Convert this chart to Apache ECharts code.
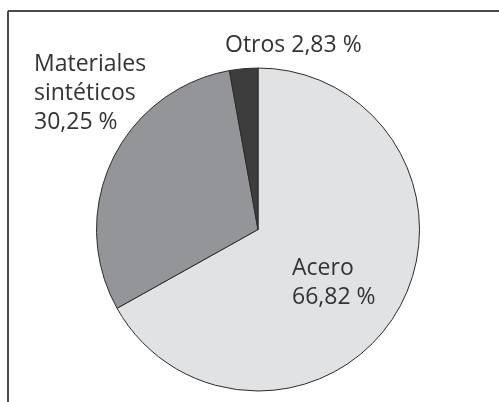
<!DOCTYPE html>
<html>
<head>
<meta charset="utf-8">
<script src="https://cdn.jsdelivr.net/npm/echarts@6/dist/echarts.min.js"></script>
<style>html,body{margin:0;padding:0;background:#fff;}#c{width:499px;height:402px;}</style>
</head>
<body>
<div id="c"></div>
<script>
var categories = ['Acero', 'Materiales\nsintéticos', 'Otros'];
var values = [66.82, 30.25, 2.83];
var valueLabels = ['66,82 %', '30,25 %', '2,83 %'];
var colors = ['#e1e2e4', '#939598', '#3d3d3e'];

var labelPos = [
  {x: 292, y: 254},
  {x: 34, y: 50},
  {x: 225, y: 31}
];

var chart = echarts.init(document.getElementById('c'), null, {renderer: 'canvas'});
chart.setOption({
  animation: false,
  graphic: [
    {type: 'line', shape: {x1: 8, y1: 11, x2: 499, y2: 11}, style: {stroke: '#4a4a4a', lineWidth: 2}},
    {type: 'line', shape: {x1: 8, y1: 11, x2: 8, y2: 402}, style: {stroke: '#4a4a4a', lineWidth: 2}}
  ],
  series: [{
    type: 'pie',
    center: [258, 229.5],
    radius: 161.5,
    startAngle: 90,
    clockwise: true,
    silent: true,
    itemStyle: {borderColor: '#2b2b2b', borderWidth: 1},
    label: {
      show: true,
      position: 'outside',
      overflow: 'none',
      width: 200,
      fontFamily: 'Open Sans',
      fontSize: 23,
      lineHeight: 29,
      color: '#333333',
      formatter: function (p) {
        var i = p.dataIndex;
        if (i === 2) return categories[i] + ' ' + valueLabels[i];
        return categories[i] + '\n' + valueLabels[i];
      }
    },
    labelLine: {show: false},
    labelLayout: function (p) {
      var pos = labelPos[p.dataIndex];
      return {x: pos.x, y: pos.y, align: 'left', verticalAlign: 'top'};
    },
    data: categories.map(function (c, i) {
      return {name: c, value: values[i], itemStyle: {color: colors[i]}};
    })
  }]
});
</script>
</body>
</html>
